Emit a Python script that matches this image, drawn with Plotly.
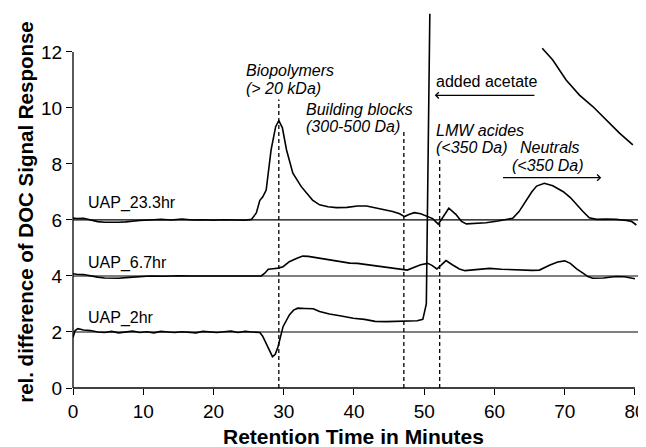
import plotly.graph_objects as go

# ---------------- data ----------------
t_23 = [0, 0.5, 1.5, 2.5, 3.5, 4.5, 5.5, 6.5, 7.5, 8.5, 9.5, 11, 12.5, 14, 15.5, 17, 18.5, 20,
        21.5, 23, 24.5, 25.4, 26.1, 26.6, 27.0, 27.5, 28.2, 28.85, 29.3, 29.8, 30.4, 31.3, 32.5,
        34.1, 35.1, 36.3, 37.5, 39, 40.5, 41.8, 43, 44.1, 45.5, 46.5, 47.2, 47.9, 48.6, 49.5,
        50.3, 51.2, 52.0, 52.7, 53.5, 54.5, 55.3, 56.0, 57.5, 58.8, 60.5, 62.0, 62.6, 63.5,
        64.5, 65.3, 66.0, 67.1, 68.3, 69.8, 70.8, 71.7, 72.6, 73.5, 74.5, 75.9, 77.3, 78.8,
        79.5, 80.2]
v_23 = [6.07, 6.05, 6.06, 6.0, 5.94, 5.92, 5.91, 5.92, 5.93, 5.96, 5.98, 6.0, 6.02, 6.0, 6.03,
        6.0, 6.01, 5.99, 6.01, 6.0, 5.99, 6.02, 6.25, 6.7, 6.82, 7.07, 8.5, 9.33, 9.55, 9.3, 8.5,
        7.67, 7.19, 6.71, 6.54, 6.47, 6.44, 6.45, 6.5, 6.5, 6.44, 6.38, 6.3, 6.22, 6.12, 6.2,
        6.26, 6.22, 6.14, 6.05, 5.85, 6.1, 6.42, 6.2, 5.95, 5.86, 5.88, 5.9, 5.96, 6.02, 6.06,
        6.3, 6.71, 7.0, 7.21, 7.31, 7.22, 7.01, 6.8, 6.54, 6.3, 6.08, 6.02, 6.03, 6.02, 5.98,
        5.95, 5.82]

t_67 = [0, 0.5, 1.5, 2.5, 3.5, 4.5, 5.5, 6.5, 7.5, 8.5, 9.5, 11, 13, 15, 17, 19, 21, 23, 25,
        26.8, 27.3, 27.8, 28.5, 29.2, 29.9, 30.8, 31.8, 32.7, 33.5, 34.2, 35.5, 36.5, 37.5, 39.4,
        40.5, 42.2, 44, 45.5, 47.0, 47.6, 48.5, 49.5, 50.5, 51.1, 51.8, 52.4, 53.1, 54, 55.0,
        55.8, 57.5, 59.3, 61, 62.5, 64.1, 65.3, 66.4, 67.1, 67.9, 69.0, 70.0, 70.8, 71.7, 72.6,
        73.3, 74.0, 75.5, 77.3, 78.5, 80.0]
v_67 = [4.08, 4.06, 4.05, 4.0, 3.96, 3.93, 3.92, 3.92, 3.94, 3.95, 3.97, 4.0, 3.99, 4.01, 4.0,
        4.0, 4.01, 4.0, 3.99, 4.0, 4.1, 4.24, 4.26, 4.28, 4.33, 4.51, 4.62, 4.71, 4.7, 4.67,
        4.6, 4.56, 4.54, 4.46, 4.45, 4.39, 4.35, 4.3, 4.24, 4.21, 4.3, 4.4, 4.45, 4.38, 4.25,
        4.4, 4.55, 4.4, 4.25, 4.19, 4.24, 4.27, 4.24, 4.22, 4.19, 4.2, 4.21, 4.3, 4.39, 4.5,
        4.54, 4.45, 4.25, 4.1, 3.98, 3.92, 3.93, 3.98, 3.97, 3.9]

t_2 = [0, 0.3, 0.7, 1.5, 2.5, 3.5, 4.5, 5.5, 6.5, 7.5, 8.5, 9.5, 10.5, 11.5, 12.5, 13.5, 14.5,
       15.5, 16.5, 17.5, 18.5, 19.5, 20.5, 21.5, 22.5, 23.5, 24.5, 25.5, 26.6, 27.0, 27.5, 28.0,
       28.4, 28.8, 29.2, 29.9, 30.8, 31.4, 32.0, 33.0, 34.2, 35.1, 36.5, 38, 39.9, 41.5, 43,
       44.6, 46, 47.5, 49.0, 49.8, 50.3, 50.8, None, 66.8, 68.3, 70.2, 72.1, 74.0, 75.9, 77.8,
       79.7]
v_2 = [1.8, 2.05, 2.12, 2.07, 2.05, 2.0, 1.98, 2.02, 1.97, 2.0, 2.03, 1.98, 2.01, 1.97, 2.02,
       2.0, 1.98, 2.01, 2.0, 1.97, 2.02, 2.0, 1.98, 2.01, 2.03, 1.98, 2.02, 2.0, 1.98, 1.85,
       1.6, 1.3, 1.12, 1.2, 1.48, 2.19, 2.61, 2.78, 2.85, 2.84, 2.83, 2.73, 2.64, 2.58, 2.49,
       2.45, 2.38, 2.37, 2.38, 2.37, 2.4, 2.45, 3.0, 13.36, None, 12.13, 11.71, 11.0, 10.46,
       10.05, 9.57, 9.1, 8.68]

series_names = ["UAP_23.3hr", "UAP_6.7hr", "UAP_2hr"]
baseline_levels = [6, 4, 2]

# fraction markers: x position and top of dashed line
marker_x = [29.3, 47.1, 52.2]
marker_top = [10.3, 9.25, 8.25]

x_ticks = [0, 10, 20, 30, 40, 50, 60, 70, 80]
y_ticks = [0, 2, 4, 6, 8, 10, 12]

assert len(t_23) == len(v_23) and len(t_67) == len(v_67) and len(t_2) == len(v_2)

# ---------------- figure ----------------
FONT = "Liberation Sans, Arial, sans-serif"
X_RANGE = [0, 81.43]
Y_RANGE = [0, 13.39]

fig = go.Figure()
for name, t, v in zip(series_names, [t_23, t_67, t_2], [v_23, v_67, v_2]):
    fig.add_trace(go.Scatter(x=t, y=v, mode="lines", name=name,
                             line=dict(color="black", width=1.6),
                             connectgaps=False, showlegend=False))

shapes = []
for lvl in baseline_levels:
    shapes.append(dict(type="line", xref="x", yref="y", x0=0, x1=81.2, y0=lvl, y1=lvl,
                       line=dict(color="black", width=1.2)))
for mx, mt in zip(marker_x, marker_top):
    shapes.append(dict(type="line", xref="x", yref="y", x0=mx, x1=mx, y0=0, y1=mt,
                       line=dict(color="black", width=1.3, dash="4px,3px")))
# axis lines (x axis to 80, y axis to 12)
shapes.append(dict(type="line", xref="paper", yref="paper", x0=0, x1=80 / X_RANGE[1],
                   y0=0, y1=0, line=dict(color="black", width=1.3)))
shapes.append(dict(type="line", xref="paper", yref="paper", x0=0, x1=0,
                   y0=0, y1=12 / Y_RANGE[1], line=dict(color="black", width=1.3)))

ann = []
def txt(x, y, s, italic=False, size=16, anchor="left"):
    ann.append(dict(x=x, y=y, xref="x", yref="y", text=s, showarrow=False,
                    xanchor=anchor, yanchor="middle",
                    font=dict(family=FONT, size=size, color="black",
                              style="italic" if italic else "normal")))

txt(24.4, 11.32, "Biopolymers", True)
txt(24.4, 10.71, "(> 20 kDa)", True)
txt(32.9, 9.93, "Building blocks", True)
txt(32.85, 9.32, "(300-500 Da)", True)
txt(51.35, 10.96, "added acetate")
txt(51.45, 9.18, "LMW acides", True)
txt(51.45, 8.57, "(<350 Da)", True)
txt(63.3, 8.57, "Neutrals", True)
txt(62.2, 7.96, "(<350 Da)", True)
txt(1.8, 6.61, series_names[0])
txt(1.8, 4.46, series_names[1])
txt(1.8, 2.5, series_names[2])

# arrows
ann.append(dict(x=51.5, y=10.45, ax=65.9, ay=10.45, xref="x", yref="y", axref="x", ayref="y",
                text="", showarrow=True, arrowhead=4, arrowsize=1.0, arrowwidth=1.2,
                arrowcolor="black", standoff=0, startstandoff=0))
ann.append(dict(x=75.2, y=7.51, ax=61.0, ay=7.51, xref="x", yref="y", axref="x", ayref="y",
                text="", showarrow=True, arrowhead=4, arrowsize=1.0, arrowwidth=1.2,
                arrowcolor="black", standoff=0, startstandoff=0))

# axis titles
ann.append(dict(x=40, y=-0.13, xref="x", yref="paper", text="<b>Retention Time in Minutes</b>",
                showarrow=False, xanchor="center", yanchor="middle",
                font=dict(family=FONT, size=21, color="black")))
ann.append(dict(x=-0.082, y=0.47, xref="paper", yref="paper",
                text="<b>rel. difference of DOC Signal Response</b>", textangle=-90,
                showarrow=False, xanchor="center", yanchor="middle",
                font=dict(family=FONT, size=20.5, color="black")))

# the page body adds an 8px margin, so the figure is 8px smaller and margins shifted
fig.update_layout(
    width=638, height=439,
    margin=dict(l=65, r=1, t=5, b=59),
    paper_bgcolor="white", plot_bgcolor="white",
    shapes=shapes, annotations=ann,
    xaxis=dict(range=X_RANGE, tickvals=x_ticks, ticks="outside", ticklen=6, tickwidth=1.2,
               tickcolor="black", showgrid=False, zeroline=False, showline=False,
               tickfont=dict(family=FONT, size=19, color="black")),
    yaxis=dict(range=Y_RANGE, tickvals=y_ticks, ticks="outside", ticklen=6, tickwidth=1.2,
               tickcolor="black", showgrid=False, zeroline=False, showline=False,
               tickfont=dict(family=FONT, size=19, color="black")),
)

fig.write_html("out.html")
